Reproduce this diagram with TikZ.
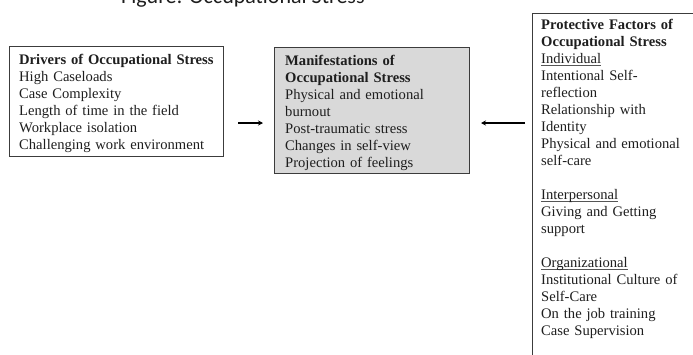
\documentclass[tikz,border=0pt]{standalone}
\usepackage{fontspec}
\setmainfont{Liberation Serif}
\newfontfamily\titlefont{Carlito}
\usetikzlibrary{arrows.meta}
\definecolor{boxline}{HTML}{3C3C3C}
\definecolor{boxfill}{HTML}{D9D9D9}
\definecolor{txtcol}{HTML}{1E1E1E}
\definecolor{ulcol}{HTML}{555555}
\newcommand{\ulword}[1]{\leavevmode\setbox0\hbox{#1}\rlap{\color{ulcol}\vrule width\wd0 height -1.5pt depth 2.1pt}#1}
\tikzset{
  box/.style={draw=boxline, line width=1pt, inner sep=0pt, anchor=north west},
  txt/.style={inner sep=0pt, anchor=north west, text width=#1, align=left, text=txtcol,
    font=\fontsize{14.6}{17}\selectfont},
  link/.style={draw=black, line width=1.4pt, -{Stealth[length=5pt,width=5pt]}},
}
\begin{document}
\begin{tikzpicture}[x=1pt,y=-1pt]
\useasboundingbox (0,0) rectangle (693,354);
\clip (0,0) rectangle (693,354);
% clipped title
\node[anchor=base west, inner sep=0pt, font=\titlefont\fontsize{22}{26}\selectfont, text=txtcol] (title) at (121,3) {Figure: Occupational Stress};
% boxes
\node[box, minimum width=214pt, minimum height=110pt] (drv) at (9,46) {};
\node[box, fill=boxfill, minimum width=195pt, minimum height=126pt] (man) at (274,47) {};
\node[box, minimum width=180pt, minimum height=400pt] (pro) at (532,12.5) {};
% texts
\node[txt=200pt] (drvt) at (19,52) {\strut\textbf{Drivers of Occupational Stress}\\
High Caseloads\\
Case Complexity\\
Length of time in the field\\
Workplace isolation\\
Challenging work environment};
\node[txt=180pt] (mant) at (285,53) {\strut\textbf{Manifestations of}\\
\textbf{Occupational Stress}\\
Physical and emotional\\
burnout\\
Post-traumatic stress\\
Changes in self-view\\
Projection of feelings};
\node[txt=160pt] (prot) at (541,17.5) {\strut\textbf{Protective Factors of}\\
\textbf{Occupational Stress}\\
\ulword{Individual}\\
Intentional Self-\\
reflection\\
Relationship with\\
Identity\\
Physical and emotional\\
self-care\\[17pt]
\ulword{Interpersonal}\\
Giving and Getting\\
support\\[17pt]
\ulword{Organizational}\\
Institutional Culture of\\
Self-Care\\
On the job training\\
Case Supervision};
% connectors
\coordinate (lv) at (0,123);
\draw[link, shorten <=14pt, shorten >=11pt] (drv.east |- lv) -- (man.west |- lv);
\draw[link, shorten <=7pt, shorten >=11pt] (pro.west |- lv) -- (man.east |- lv);
\end{tikzpicture}
\end{document}
